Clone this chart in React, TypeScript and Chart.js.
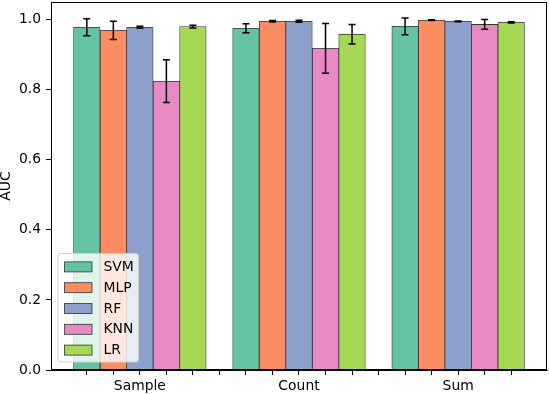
import React, { useEffect, useRef } from 'react';
import { Chart, registerables } from 'chart.js';

Chart.register(...registerables);

const categories = ['Sample', 'Count', 'Sum'];
const models = ['SVM', 'MLP', 'RF', 'KNN', 'LR'];
const colors = ['#66c2a5', '#fc8d62', '#8da0cb', '#e78ac3', '#a6d854'];

const svmAuc = [0.978, 0.975, 0.9805];
const svmErr = [0.024, 0.013, 0.024];
const mlpAuc = [0.969, 0.995, 0.998];
const mlpErr = [0.026, 0.002, 0.001];
const rfAuc = [0.978, 0.995, 0.995];
const rfErr = [0.003, 0.003, 0.001];
const knnAuc = [0.824, 0.918, 0.986];
const knnErr = [0.061, 0.071, 0.014];
const lrAuc = [0.98, 0.958, 0.992];
const lrErr = [0.004, 0.028, 0.002];

const yTicks = [0, 0.2, 0.4, 0.6, 0.8, 1.0];

const seriesValues = [svmAuc, mlpAuc, rfAuc, knnAuc, lrAuc];
const seriesErrors = [svmErr, mlpErr, rfErr, knnErr, lrErr];

const SLOTS = 6; // 5 bars + 1 empty slot per group
const FONT = '"DejaVu Sans", sans-serif';
const FS = 13.9;

const errorBarPlugin = {
  id: 'errorBars',
  afterDatasetsDraw(chart: any) {
    const ctx = chart.ctx;
    const yScale = chart.scales.y;
    ctx.save();
    ctx.strokeStyle = '#000';
    ctx.lineWidth = 1.5;
    chart.data.datasets.forEach((ds: any, i: number) => {
      const meta = chart.getDatasetMeta(i);
      meta.data.forEach((el: any, j: number) => {
        const v = ds.data[j].y;
        const e = ds.errors[j];
        const x = el.x;
        const yt = yScale.getPixelForValue(v + e);
        const yb = yScale.getPixelForValue(v - e);
        ctx.beginPath();
        ctx.moveTo(x, yt);
        ctx.lineTo(x, yb);
        ctx.moveTo(x - 3.5, yt);
        ctx.lineTo(x + 3.5, yt);
        ctx.moveTo(x - 3.5, yb);
        ctx.lineTo(x + 3.5, yb);
        ctx.stroke();
      });
    });
    ctx.restore();
  },
};

const framePlugin = {
  id: 'frame',
  afterDraw(chart: any) {
    const { ctx, chartArea } = chart;
    ctx.save();
    ctx.strokeStyle = '#000';
    ctx.lineWidth = 1;
    ctx.strokeRect(
      Math.round(chartArea.left) + 0.5,
      Math.round(chartArea.top) + 0.5,
      Math.round(chartArea.right - chartArea.left) - 1,
      Math.round(chartArea.bottom - chartArea.top) - 1
    );
    ctx.restore();
  },
};

const legendPlugin = {
  id: 'boxLegend',
  afterDraw(chart: any) {
    const { ctx, chartArea } = chart;
    const x0 = chartArea.left + 7;
    const y1 = chartArea.bottom - 8;
    const rowH = 20.8;
    const n = chart.data.datasets.length;
    const w = 80.5;
    const h = 108.5;
    const y0 = y1 - h;
    ctx.save();
    ctx.beginPath();
    const r = 3;
    ctx.moveTo(x0 + r, y0);
    ctx.arcTo(x0 + w, y0, x0 + w, y0 + h, r);
    ctx.arcTo(x0 + w, y0 + h, x0, y0 + h, r);
    ctx.arcTo(x0, y0 + h, x0, y0, r);
    ctx.arcTo(x0, y0, x0 + w, y0, r);
    ctx.closePath();
    ctx.fillStyle = 'rgba(255,255,255,0.8)';
    ctx.fill();
    ctx.strokeStyle = '#d0d0d0';
    ctx.lineWidth = 1;
    ctx.stroke();
    ctx.font = `${FS}px ${FONT}`;
    ctx.textBaseline = 'middle';
    ctx.textAlign = 'left';
    for (let i = 0; i < n; i++) {
      const ds = chart.data.datasets[i];
      const cy = y0 + 13.4 + i * rowH;
      ctx.fillStyle = ds.backgroundColor;
      ctx.fillRect(x0 + 6.5, cy - 5, 27.5, 10);
      ctx.strokeStyle = '#333';
      ctx.lineWidth = 0.8;
      ctx.strokeRect(x0 + 6.5, cy - 5, 27.5, 10);
      ctx.fillStyle = '#000';
      ctx.fillText(ds.label, x0 + 45.5, cy + 0.5);
    }
    ctx.restore();
  },
};

export default function App() {
  const canvasRef = useRef<HTMLCanvasElement | null>(null);

  useEffect(() => {
    document.body.style.margin = '0';
    const canvas = canvasRef.current;
    if (!canvas) return;
    Chart.defaults.font.family = FONT;
    Chart.defaults.color = '#000';

    const datasets = models.map((name, s) => ({
      label: name,
      data: categories.map((_, g) => ({ x: g * SLOTS + s, y: seriesValues[s][g] })),
      errors: seriesErrors[s],
      backgroundColor: colors[s],
      borderColor: '#333',
      borderWidth: 0.8,
      barPercentage: 1,
      categoryPercentage: 1,
      grouped: false,
    }));

    const nTicks = (categories.length - 1) * SLOTS + models.length; // 17
    const half = 0.5;
    const margin = nTicks * 0.05;

    const chart = new Chart(canvas, {
      type: 'bar',
      data: { datasets } as any,
      options: {
        animation: false,
        responsive: false,
        devicePixelRatio: 1,
        layout: { padding: { top: 2, right: 2, left: 0, bottom: 0 } },
        plugins: {
          legend: { display: false },
          tooltip: { enabled: false },
        },
        scales: {
          x: {
            type: 'linear',
            offset: false,
            min: -half - margin,
            max: nTicks - 1 + half + margin,
            afterBuildTicks: (scale: any) => {
              scale.ticks = Array.from({ length: nTicks }, (_, i) => ({ value: i }));
            },
            afterFit: (scale: any) => {
              scale.height = 24;
              scale.paddingLeft = 0;
              scale.paddingRight = 0;
            },
            grid: {
              offset: false,
              drawOnChartArea: false,
              drawTicks: true,
              tickLength: 5,
              color: '#000',
            },
            border: { display: true, color: '#000', width: 1 },
            ticks: {
              autoSkip: false,
              maxRotation: 0,
              padding: 3,
              font: { size: FS, family: FONT },
              color: '#000',
              callback: (v: any) => {
                const val = Number(v);
                const s = Math.floor(models.length / 2);
                if (val % SLOTS === s) return categories[(val - s) / SLOTS];
                return '';
              },
            },
          },
          y: {
            type: 'linear',
            min: 0,
            max: 1.05,
            afterBuildTicks: (scale: any) => {
              scale.ticks = yTicks.map((v) => ({ value: v }));
            },
            afterFit: (scale: any) => {
              scale.width = 51;
              scale.paddingTop = 0;
              scale.paddingBottom = 0;
            },
            grid: {
              drawOnChartArea: false,
              drawTicks: true,
              tickLength: 5,
              color: '#000',
            },
            border: { display: true, color: '#000', width: 1 },
            title: {
              display: true,
              text: 'AUC',
              font: { size: FS, family: FONT, lineHeight: 0.9 },
              padding: 0,
              color: '#000',
            },
            ticks: {
              padding: 5,
              font: { size: FS, family: FONT },
              color: '#000',
              callback: (v: any) => Number(v).toFixed(1),
            },
          },
        },
      } as any,
      plugins: [errorBarPlugin, framePlugin, legendPlugin],
    });

    return () => chart.destroy();
  }, []);

  return (
    <div style={{ width: 549, height: 394 }}>
      <canvas ref={canvasRef} width={549} height={394} />
    </div>
  );
}
